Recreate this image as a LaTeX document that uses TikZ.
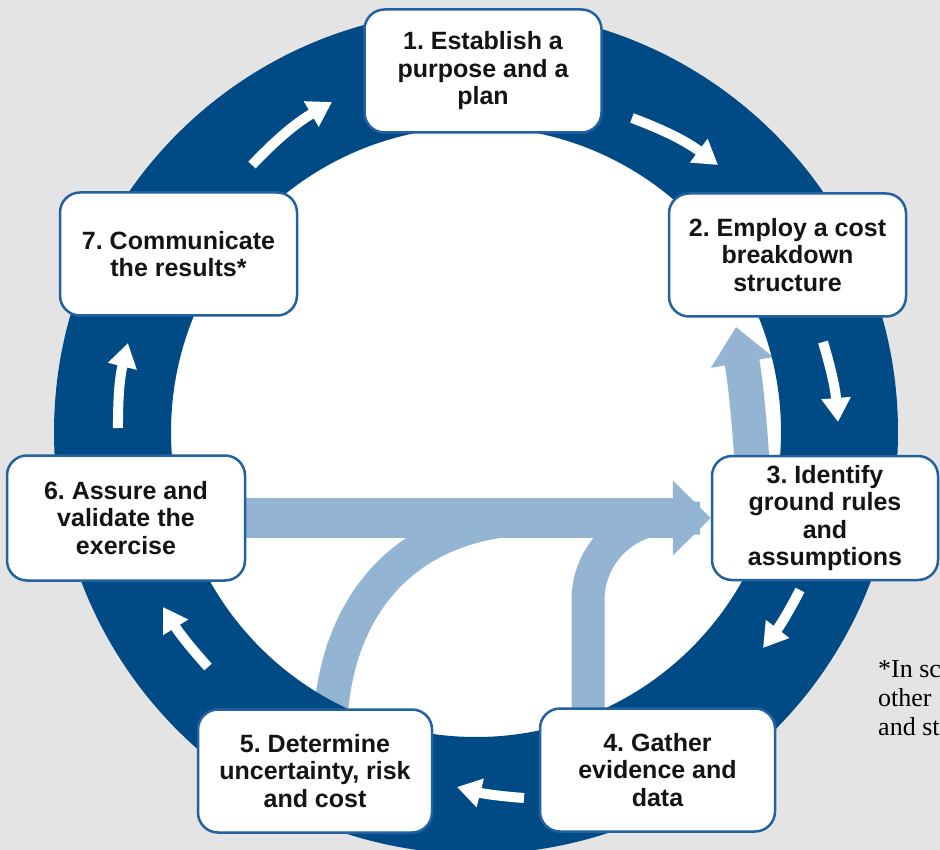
\documentclass[tikz,border=0pt]{standalone}
\usepackage{fontspec}
\setmainfont{Liberation Sans}
\newfontfamily\footserif{Liberation Serif}
\usetikzlibrary{arrows.meta}
\frenchspacing
\definecolor{bg}{HTML}{E4E4E4}
\definecolor{ring}{HTML}{004A85}
\definecolor{lb}{HTML}{93B5D3}
\definecolor{boxblue}{HTML}{2262A0}
\definecolor{textc}{HTML}{141414}
\newcommand{\boxfont}{\bfseries\fontsize{25}{27.5}\selectfont}
\newcommand{\footfont}{\footserif\fontsize{26}{29}\selectfont}
\pgfdeclarelayer{back}
\pgfdeclarelayer{mid}
\pgfsetlayers{back,mid,main}
\tikzset{
  stepbox/.style={draw=boxblue, line width=2.5pt, fill=white, rounded corners=20pt,
    minimum width=237pt, minimum height=123pt, align=center, inner sep=2pt,
    font=\boxfont, text=textc},
  lbarrow/.style={draw=lb, line cap=butt},
  warrow/.style={draw=white, line width=10pt, -{Triangle[width=28pt,length=24pt]}},
  foot/.style={font=\footfont, text=black, align=left, inner sep=0pt}
}
\begin{document}
\frenchspacing
\begin{tikzpicture}[x=1pt,y=-1pt]
\useasboundingbox (0,0) rectangle (940,850);
\clip (0,0) rectangle (940,850);
% step boxes
\node[stepbox] (n1) at (483,71) {1. Establish a\\purpose and a\\plan};
\node[stepbox] (n2) at (787.5,255) {2. Employ a cost\\breakdown\\structure};
\node[stepbox, minimum width=226pt, minimum height=124pt] (n3) at (825,518) {3. Identify\\ground rules\\and\\assumptions};
\node[stepbox, minimum width=235pt] (n4) at (657.5,770) {4. Gather\\evidence and\\data};
\node[stepbox, minimum width=234pt] (n5) at (315,771) {5. Determine\\uncertainty, risk\\and cost};
\node[stepbox, minimum width=238pt, minimum height=125pt] (n6) at (126,518) {6. Assure and\\validate the\\exercise};
\node[stepbox] (n7) at (178.5,254) {7. Communicate\\the results*};
% footnote (base anchor sits on the last line)
\node[foot, anchor=base west] (fn) at (878,735) {*In sc\\other\\and st};
\begin{pgfonlayer}{back}
\fill[bg] (0,0) rectangle (940,850);
\fill[white] (476,432) circle[radius=306];
\coordinate (c5) at (331,712);
\coordinate (c4) at (588,712);
\coordinate (c3) at (752,462);
\coordinate (tipup) at (736,327);
\coordinate (m5) at (540,518);
\coordinate (m4) at (700,518);
\draw[lbarrow, line width=34pt] (c5) .. controls (340,600) and (410,518) .. (m5);
\draw[lbarrow, line width=33pt, rounded corners=82pt] (c4) |- (m4);
\draw[lbarrow, line width=40pt, -{Triangle[width=73pt,length=38pt]}] (n6.east) -- (n3.west);
\draw[lbarrow, line width=35pt, -{Triangle[width=61pt,length=36pt]}] (c3) to[bend right=3] (tipup);
\end{pgfonlayer}
\begin{pgfonlayer}{mid}
\fill[ring, even odd rule] (476,432) circle[radius=422] (476,432) circle[radius=305];
\coordinate (w1s) at (252,165); \coordinate (w1e) at (332,102);
\coordinate (w2s) at (632,118); \coordinate (w2e) at (718,165);
\coordinate (w3s) at (823,342); \coordinate (w3e) at (838,422);
\coordinate (w4s) at (800,590); \coordinate (w4e) at (763,648);
\coordinate (w5s) at (524,798); \coordinate (w5e) at (457,787);
\coordinate (w6s) at (208,667); \coordinate (w6e) at (163,607);
\coordinate (w7s) at (118,428); \coordinate (w7e) at (128,343);
\draw[warrow] (w1s) to[bend left=8] (w1e);
\draw[warrow] (w2s) to[bend left=8] (w2e);
\draw[warrow] (w3s) to[bend left=6] (w3e);
\draw[warrow] (w4s) to[bend left=5] (w4e);
\draw[warrow] (w5s) to[bend left=5] (w5e);
\draw[warrow] (w6s) to[bend left=5] (w6e);
\draw[warrow] (w7s) to[bend left=7] (w7e);
\end{pgfonlayer}
\end{tikzpicture}
\end{document}
